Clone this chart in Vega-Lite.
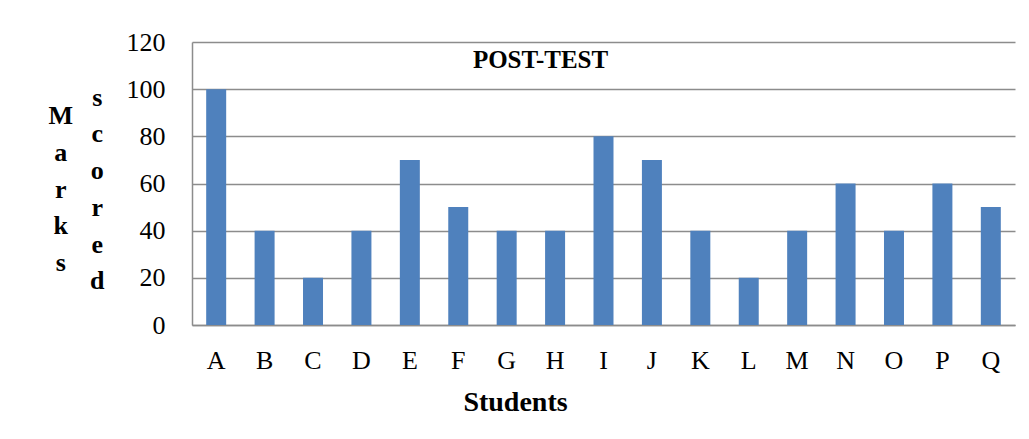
{
  "$schema": "https://vega.github.io/schema/vega-lite/v6.json",
  "width": 823,
  "height": 283,
  "autosize": {"type": "none"},
  "padding": {"left": 192, "top": 42, "right": 14, "bottom": 114},
  "background": "white",
  "title": {
    "text": "POST-TEST",
    "font": "Liberation Serif",
    "fontSize": 25,
    "fontWeight": "bold",
    "color": "black",
    "anchor": "middle",
    "frame": "group",
    "baseline": "middle",
    "offset": 0,
    "dx": -63,
    "dy": 56
  },
  "data": {
    "values": [
      {"student": "A", "marks": 100},
      {"student": "B", "marks": 40},
      {"student": "C", "marks": 20},
      {"student": "D", "marks": 40},
      {"student": "E", "marks": 70},
      {"student": "F", "marks": 50},
      {"student": "G", "marks": 40},
      {"student": "H", "marks": 40},
      {"student": "I", "marks": 80},
      {"student": "J", "marks": 70},
      {"student": "K", "marks": 40},
      {"student": "L", "marks": 20},
      {"student": "M", "marks": 40},
      {"student": "N", "marks": 60},
      {"student": "O", "marks": 40},
      {"student": "P", "marks": 60},
      {"student": "Q", "marks": 50}
    ]
  },
  "mark": {"type": "bar", "color": "#4F81BD"},
  "encoding": {
    "x": {
      "field": "student",
      "type": "nominal",
      "sort": null,
      "scale": {"paddingInner": 0.587, "paddingOuter": 0.293},
      "axis": {
        "labelAngle": 0,
        "labelFont": "Liberation Serif",
        "labelFontSize": 26,
        "labelColor": "black",
        "labelBaseline": "middle",
        "labelPadding": 35,
        "ticks": false,
        "domain": true,
        "domainColor": "#8c8c8c",
        "domainWidth": 1.5,
        "grid": false,
        "title": "Students",
        "titleFont": "Liberation Serif",
        "titleFontSize": 28,
        "titleFontWeight": "bold",
        "titleColor": "black",
        "titleX": 323,
        "titleY": 77,
        "titleBaseline": "middle",
        "titleAlign": "center"
      }
    },
    "y": {
      "field": "marks",
      "type": "quantitative",
      "scale": {"domain": [0, 120], "nice": false},
      "axis": {
        "values": [0, 20, 40, 60, 80, 100, 120],
        "labelFont": "Liberation Serif",
        "labelFontSize": 26,
        "labelColor": "black",
        "labelPadding": 27,
        "ticks": false,
        "domain": true,
        "domainColor": "#8c8c8c",
        "domainWidth": 1.5,
        "grid": true,
        "gridColor": "#8c8c8c",
        "gridWidth": 1.5,
        "title": ["\u200B\u2003\u2009\u2009s", "M\u2003\u2009\u2009\u200B", "\u200B\u2003\u2009\u2009c", "a\u2003\u2009\u2009\u200B", "\u200B\u2003\u2009\u2009o", "r\u2003\u2009\u2009\u200B", "\u200B\u2003\u2009\u2009r", "k\u2003\u2009\u2009\u200B", "\u200B\u2003\u2009\u2009e", "s\u2003\u2009\u2009\u200B", "\u200B\u2003\u2009\u2009d"],
        "titleAngle": 0,
        "titleFont": "Liberation Serif",
        "titleFontSize": 26,
        "titleFontWeight": "bold",
        "titleColor": "black",
        "titleLineHeight": 18.4,
        "titleAlign": "center",
        "titleBaseline": "middle",
        "titleX": -113.5,
        "titleY": 55
      }
    }
  },
  "config": {"view": {"stroke": null}}
}
